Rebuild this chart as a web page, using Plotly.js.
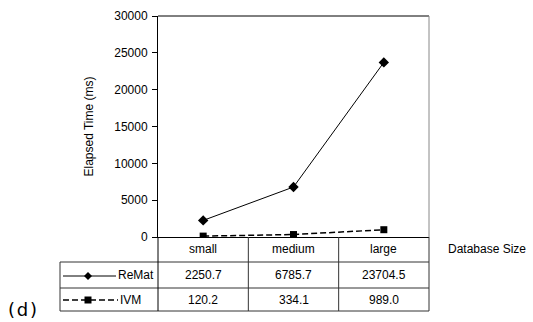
<!DOCTYPE html>
<html>
<head>
<meta charset="utf-8">
<script src="https://cdn.plot.ly/plotly-3.0.1.min.js"></script>
<style>html,body{margin:0;padding:0;background:#fff;}#chart{width:533px;height:322px;}</style>
</head>
<body>
<div id="chart"></div>
<script>
const categories = ["small", "medium", "large"];
const seriesNames = ["ReMat", "IVM"];
const rematValues = [2250.7, 6785.7, 23704.5];
const ivmValues = [120.2, 334.1, 989.0];
const rematLabels = ["2250.7", "6785.7", "23704.5"];
const ivmLabels = ["120.2", "334.1", "989.0"];
const yTicks = [0, 5000, 10000, 15000, 20000, 25000, 30000];
const yTickText = ["0", "5000", "10000", "15000", "20000", "25000", "30000"];

const W = 533, H = 322;
const L = 158, R = 429, T = 16, B = 237;
const pw = R - L, ph = B - T;
const X = px => (px - L) / pw;
const Y = py => (B - py) / ph;
const FONT = "Liberation Sans, Arial, sans-serif";
const tableCol = "#333333";

const traces = [
  {x: categories, y: rematValues, name: seriesNames[0], mode: "lines+markers",
   line: {color: "#000", width: 1}, marker: {symbol: "diamond", size: 8, color: "#000"}},
  {x: categories, y: ivmValues, name: seriesNames[1], mode: "lines+markers",
   line: {color: "#000", width: 1.5, dash: "6px,3px"}, marker: {symbol: "square", size: 7, color: "#000"}}
];

const shapes = [];
function hline(x0, x1, y, color) {
  shapes.push({type: "line", xref: "paper", yref: "paper", x0: X(x0), x1: X(x1), y0: Y(y), y1: Y(y), line: {color: color || tableCol, width: 1}});
}
function vline(x, y0, y1, color) {
  shapes.push({type: "line", xref: "paper", yref: "paper", x0: X(x), x1: X(x), y0: Y(y0), y1: Y(y1), line: {color: color || tableCol, width: 1}});
}
// plot frame
hline(L, R, T, "#000");
vline(R, T, B, "#888");
// table
const colW = pw / categories.length;
hline(L, R, 262);
hline(60, R, 288);
hline(60, R, 311);
hline(60, L, 262);
vline(60, 262, 311);
vline(L, B, 311, "#000");
for (let i = 1; i < categories.length; i++) vline(L + i * colW, B, 311);
vline(R, B, 311);

// legend keys
const k1y = 276, k2y = 300;
hline(63, 116, k1y, "#000");
shapes.push({type: "path", xref: "paper", yref: "paper",
  path: `M ${X(88)},${Y(k1y-4)} L ${X(92)},${Y(k1y)} L ${X(88)},${Y(k1y+4)} L ${X(84)},${Y(k1y)} Z`,
  fillcolor: "#000", line: {color: "#000", width: 0}});
shapes.push({type: "line", xref: "paper", yref: "paper", x0: X(63), x1: X(118), y0: Y(k2y), y1: Y(k2y),
  line: {color: "#000", width: 1.5, dash: "6px,3px"}});
shapes.push({type: "rect", xref: "paper", yref: "paper", x0: X(84.5), x1: X(91.5), y0: Y(k2y-3.5), y1: Y(k2y+3.5),
  fillcolor: "#000", line: {color: "#000", width: 0}});

const annotations = [];
function txt(text, xref, x, py, anchor, size, family) {
  annotations.push({text: text, xref: xref, yref: "paper", x: x, y: Y(py), xanchor: anchor || "center", yanchor: "middle",
    showarrow: false, font: {family: family || FONT, size: size || 12, color: "#000"}});
}
categories.forEach((c, i) => {
  txt(c, "x", i, 249);
  txt(rematLabels[i], "x", i, 275);
  txt(ivmLabels[i], "x", i, 299.5);
});
txt(seriesNames[0], "paper", X(116), 275, "left");
txt(seriesNames[1], "paper", X(118), 299.5, "left");
txt("Database Size", "paper", X(446), 249, "left");
txt("(\u200Ad\u200A)", "paper", X(6), 309, "left", 18, "DejaVu Sans");

const layout = {
  width: W, height: H,
  margin: {l: L, r: W - R, t: T, b: H - B, pad: 0},
  paper_bgcolor: "#fff", plot_bgcolor: "#fff",
  showlegend: false,
  xaxis: {type: "category", range: [-0.5, 2.5], showticklabels: false, ticks: "", showgrid: false, zeroline: false,
    showline: true, linecolor: "#000", linewidth: 1, fixedrange: true},
  yaxis: {range: [0, 30000], tickvals: yTicks, ticktext: yTickText, ticks: "outside", ticklen: 5, tickcolor: "#000", showgrid: false,
    zeroline: false, showline: true, linecolor: "#000", linewidth: 1, ticklabelstandoff: 2,
    tickfont: {family: FONT, size: 12, color: "#000"},
    title: {text: "Elapsed Time (ms)", font: {family: FONT, size: 12, color: "#000"}, standoff: 18}},
  shapes: shapes,
  annotations: annotations
};
Plotly.newPlot("chart", traces, layout, {staticPlot: true, displayModeBar: false});
</script>
</body>
</html>
